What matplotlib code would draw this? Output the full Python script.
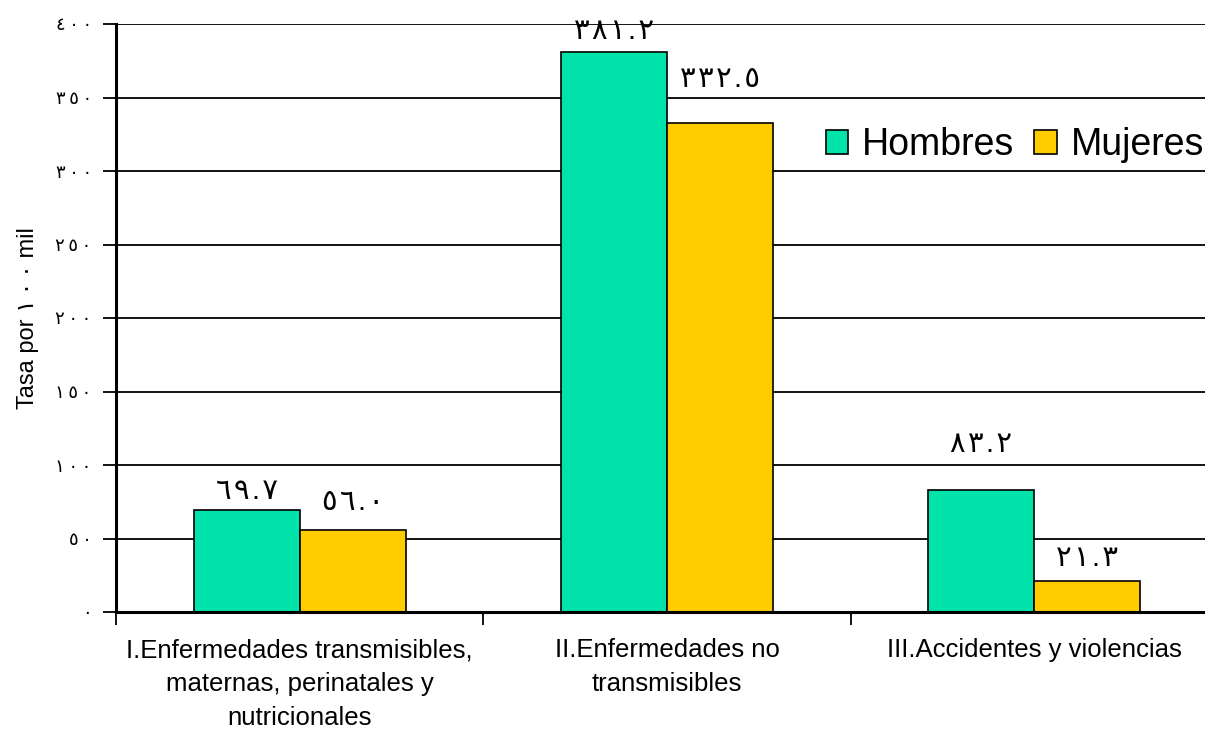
import matplotlib
matplotlib.use("Agg")
import matplotlib.pyplot as plt
from matplotlib.ticker import FuncFormatter, FixedLocator
import numpy as np

plt.rcParams['font.family'] = ['Liberation Sans', 'DejaVu Sans']

categories = ["I.Enfermedades transmisibles,\nmaternas, perinatales y\nnutricionales",
              "II.Enfermedades no\ntransmisibles",
              "III.Accidentes y violencias"]
series_names = ["Hombres", "Mujeres"]
hombres = [69.7, 381.2, 83.2]
mujeres = [56.0, 332.5, 21.3]
y_ticks = [0, 50, 100, 150, 200, 250, 300, 350, 400]

colors = ["#00E3AA", "#FFCC00"]
label_offsets = [[3, 5, 22.5], [10, 22, 6]]  # label gap above bar, in points

AR = str.maketrans("0123456789", "٠١٢٣٤٥٦٧٨٩")
def to_ar(s, sep="\u200a"):
    return sep.join(str(s).translate(AR))

fig = plt.figure(figsize=(12.05, 7.29), dpi=100)
ax = fig.add_axes([116/1205, 117/729, 1102/1205, 588/729])

x = np.arange(len(categories))
w = 0.289
b1 = ax.bar(x - w/2, hombres, w, color=colors[0], edgecolor="black", linewidth=1.2,
            label=series_names[0], zorder=3)
b2 = ax.bar(x + w/2, mujeres, w, color=colors[1], edgecolor="black", linewidth=1.2,
            label=series_names[1], zorder=3)

for bars, vals, offs in [(b1, hombres, label_offsets[0]), (b2, mujeres, label_offsets[1])]:
    for rect, v, o in zip(bars, vals, offs):
        ax.annotate(to_ar(f"{v:.1f}"), (rect.get_x() + rect.get_width()/2, v),
                    xytext=(0, o), textcoords="offset points", ha="center", va="bottom",
                    fontsize=21, zorder=4, annotation_clip=False)

ax.set_xlim(-0.5, 2.5)
ax.set_ylim(0, 400)
ax.yaxis.set_major_locator(FixedLocator(y_ticks))
ax.yaxis.set_major_formatter(FuncFormatter(lambda v, p: to_ar(int(v), "\u2009")))
ax.grid(axis="y", color="black", linewidth=1.3, zorder=1)
ax.set_axisbelow(True)

ax.set_xticks(x)
ax.set_xticklabels(categories, fontsize=18.5, linespacing=1.51)
ax.tick_params(axis="x", which="major", length=0, pad=19)
ax.set_xticks([-0.5, 0.5, 1.5, 2.5], minor=True)
ax.tick_params(axis="x", which="minor", length=9, width=1.3, direction="out")
ax.tick_params(axis="y", length=9.5, width=1.3, labelsize=13, pad=8)

for s in ["top", "right"]:
    ax.spines[s].set_visible(False)
for s in ["left", "bottom"]:
    ax.spines[s].set_linewidth(2.2)
ax.spines["left"].set_zorder(5)
ax.spines["bottom"].set_zorder(5)

ax.set_ylabel("Tasa por " + to_ar(100, "\u2009") + " mil", fontsize=17, labelpad=12)

leg = ax.legend(loc="upper right", bbox_to_anchor=((1204 - 116) / 1102, 0.825), frameon=False,
                fontsize=27, handlelength=0.6, handleheight=0.6, handletextpad=0.37,
                columnspacing=0.53, ncol=2, borderaxespad=0, borderpad=0)

fig.savefig("out.png", dpi=100, facecolor="white")
